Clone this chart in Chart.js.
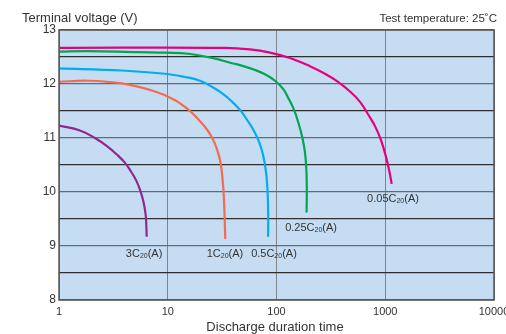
<!DOCTYPE html>
<html>
<head>
<meta charset="utf-8">
<script src="https://cdn.jsdelivr.net/npm/chart.js@4.4.1/dist/chart.umd.min.js"></script>
<style>
  html, body { margin: 0; padding: 0; background: #fff; }
  canvas { display: block; }
</style>
</head>
<body>
<canvas id="graf" width="506" height="334"></canvas>
<script>
// discharge curves, time (log scale) vs terminal voltage
var xTicks = [1, 10, 100, 1000, 10000];

var c3X = [1, 1.56, 2.14, 2.76, 3.42, 4.05, 4.59, 5.11, 5.56, 5.98, 6.28, 6.4];
var c3Y = [11.23, 11.14, 11.0, 10.85, 10.69, 10.54, 10.38, 10.22, 10.04, 9.82, 9.56, 9.17];

var c1X = [1, 1.85, 3.8, 7.64, 11.7, 16.0, 19.8, 22.5, 25.0, 27.2, 29.0, 30.6, 31.7, 32.6, 33.3, 33.8];
var c1Y = [12.04, 12.06, 12.01, 11.86, 11.70, 11.5, 11.31, 11.18, 11.04, 10.89, 10.73, 10.54, 10.30, 10.0, 9.57, 9.13];

var c05X = [1, 3.8, 9.44, 14.4, 19.8, 25.5, 31.5, 38.2, 46.2, 54.7, 62.1, 69.1, 75.2, 80.1, 82.8, 83.9, 83.7];
var c05Y = [12.29, 12.25, 12.19, 12.13, 12.06, 11.95, 11.83, 11.69, 11.52, 11.31, 11.13, 10.93, 10.69, 10.37, 10.0, 9.57, 9.17];

var c025X = [1, 1.85, 5.33, 9.8, 15.4, 26.1, 39.8, 46.2, 63.4, 78.4, 96.9, 115, 130, 145, 158, 172, 182, 188, 190, 189];
var c025Y = [12.60, 12.61, 12.59, 12.58, 12.56, 12.48, 12.38, 12.35, 12.26, 12.18, 12.06, 11.91, 11.72, 11.52, 11.30, 11.03, 10.76, 10.43, 10.02, 9.62];

var c005X = [1, 33.6, 57.1, 87.1, 133, 203, 279, 368, 474, 586, 694, 805, 914, 1016, 1094, 1146];
var c005Y = [12.67, 12.67, 12.64, 12.58, 12.48, 12.33, 12.19, 12.04, 11.86, 11.67, 11.44, 11.22, 10.96, 10.65, 10.37, 10.15];

var nomes = ["3C", "1C", "0.5C", "0.25C", "0.05C"];
var cores = ["#92278f", "#f26c4f", "#00aeef", "#00a651", "#e6007e"];

// where each curve's name sits (data units)
var rotuloX = [6.06, 33.6, 94.8, 208, 1178];
var rotuloY = [8.85, 8.85, 8.85, 9.33, 9.87];

function pontos(xs, ys) {
  var p = [];
  for (var i in xs) {
    p.push({x: xs[i], y: ys[i]});
  }
  return p;
}

var series = [[c3X, c3Y], [c1X, c1Y], [c05X, c05Y], [c025X, c025Y], [c005X, c005Y]];
var datasets = [];
for (var i in series) {
  datasets.push({
    label: nomes[i],
    data: pontos(series[i][0], series[i][1]),
    borderColor: cores[i],
    borderWidth: 2.2,
    pointRadius: 0,
    tension: 0.4,
    fill: false
  });
}

var fonte = "'Liberation Sans', Arial, sans-serif";
Chart.defaults.font.family = fonte;
Chart.defaults.color = "#333";

var fundo = {
  id: "fundo",
  beforeDraw: function (chart) {
    var a = chart.chartArea, ctx = chart.ctx;
    ctx.save();
    ctx.fillStyle = "#c6dcf2";
    ctx.fillRect(a.left, a.top, a.right - a.left, a.bottom - a.top);
    ctx.restore();
  },
  afterDraw: function (chart) {
    var a = chart.chartArea, ctx = chart.ctx;
    var sx = chart.scales.x, sy = chart.scales.y;
    ctx.save();
    ctx.strokeStyle = "#555";
    ctx.lineWidth = 1.5;
    ctx.strokeRect(a.left, a.top, a.right - a.left, a.bottom - a.top);

    ctx.fillStyle = "#333";
    ctx.textBaseline = "alphabetic";
    ctx.font = "13px " + fonte;
    ctx.textAlign = "left";
    ctx.fillText("Terminal voltage (V)", 22, 21.5);
    ctx.font = "11.5px " + fonte;
    ctx.textAlign = "right";
    ctx.fillText("Test temperature: 25\u02DAC", 497, 22);
    ctx.font = "13px " + fonte;
    ctx.textAlign = "center";
    ctx.fillText("Discharge duration time", 275, 330.5);

    // curve names with subscript 20
    ctx.textAlign = "left";
    ctx.textBaseline = "middle";
    for (var i in nomes) {
      var px = sx.getPixelForValue(rotuloX[i]);
      var py = sy.getPixelForValue(rotuloY[i]);
      ctx.font = "11px " + fonte;
      var w1 = ctx.measureText(nomes[i]).width;
      var w3 = ctx.measureText("(A)").width;
      ctx.font = "7px " + fonte;
      var w2 = ctx.measureText("20").width;
      var x0 = px - (w1 + w2 + w3) / 2;
      ctx.font = "11px " + fonte;
      ctx.fillText(nomes[i], x0, py);
      ctx.font = "7px " + fonte;
      ctx.fillText("20", x0 + w1, py + 2);
      ctx.font = "11px " + fonte;
      ctx.fillText("(A)", x0 + w1 + w2, py);
    }
    ctx.restore();
  }
};

var graf = new Chart(document.getElementById("graf"), {
  type: "line",
  data: { datasets: datasets },
  options: {
    responsive: false,
    animation: false,
    layout: { padding: { top: 30, right: 12, left: 0, bottom: 0 } },
    plugins: {
      legend: { display: false },
      title: { display: false },
      tooltip: { enabled: false }
    },
    scales: {
      x: {
        type: "logarithmic",
        min: 1,
        max: 10000,
        afterBuildTicks: function (scale) {
          scale.ticks = xTicks.map(function (v) { return {value: v}; });
        },
        afterFit: function (scale) {
          scale.height = 34;
          scale.paddingLeft = 0;
          scale.paddingRight = 0;
        },
        ticks: {
          autoSkip: false,
          maxRotation: 0,
          padding: 5,
          font: { size: 11 },
          color: "#333",
          callback: function (v) { return String(v); }
        },
        grid: { color: "#7d848c", lineWidth: 1, tickLength: 0 },
        border: { display: false }
      },
      y: {
        min: 8,
        max: 13,
        afterFit: function (scale) {
          scale.width = 59;
        },
        ticks: {
          stepSize: 0.5,
          padding: 3,
          font: { size: 12 },
          color: "#333",
          callback: function (v) { return Number.isInteger(v) ? v : ""; }
        },
        grid: {
          tickLength: 0,
          lineWidth: 1.2,
          color: function (c) {
            return Number.isInteger(c.tick.value) ? "#636a73" : "#2f2f2f";
          }
        },
        border: { display: false }
      }
    }
  },
  plugins: [fundo]
});
</script>
</body>
</html>
